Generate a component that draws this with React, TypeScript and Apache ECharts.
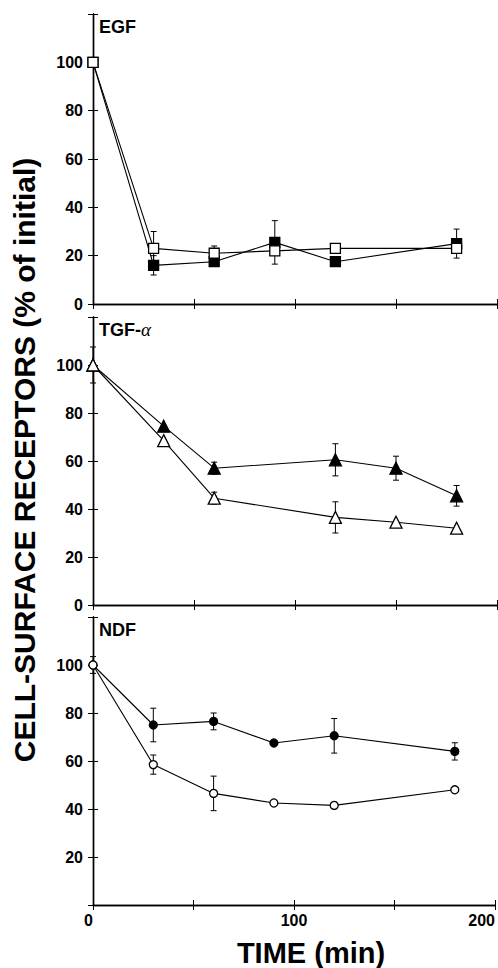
import React, { useEffect, useRef } from "react";
import * as echarts from "echarts";

// ---- data ----
const egfX = [0, 30, 60, 90, 120, 180];
const egfFilled = [100, 16, 17.5, 25.5, 17.5, 25];
const egfFilledErr = [0, 4, 1, 9, 1, 6];
const egfOpen = [100, 23, 21, 22, 23, 23];
const egfOpenErr = [0, 7, 3, 0, 0, 0];

const tgfX = [0, 35, 60, 120, 150, 180];
const tgfFilled = [100, 74.5, 57, 60.5, 57, 45.5];
const tgfFilledErr = [0, 0, 2.5, 6.7, 5, 4.3];
const tgfOpen = [100, 68.5, 44.5, 36.5, 34.5, 32];
const tgfOpenErr = [7.5, 0, 2.5, 6.5, 0, 0];

const ndfX = [0, 30, 60, 90, 120, 180];
const ndfFilled = [100, 75, 76.5, 67.5, 70.5, 64];
const ndfFilledErr = [0, 7, 3.5, 0, 7.2, 3.6];
const ndfOpen = [100, 58.5, 46.5, 42.5, 41.5, 48];
const ndfOpenErr = [3.5, 4, 7.2, 0, 0, 0];

const panelNames = ["EGF", "TGF-", "NDF"];
const yTicks = [0, 20, 40, 60, 80, 100];
const xTicks = [0, 100, 200];

const FONT = "'Liberation Sans', Arial, Helvetica, sans-serif";

export default function App() {
  const ref = useRef<HTMLDivElement>(null);
  useEffect(() => {
    document.body.style.margin = "0";
    const chart = echarts.init(ref.current!, null, { renderer: "svg" });

    const grids = [
      { left: 93, top: 14, width: 404, height: 290 },
      { left: 93, top: 317, width: 404, height: 288 },
      { left: 93, top: 617, width: 404, height: 288 },
    ];

    const xAxis: any[] = [];
    const yAxis: any[] = [];
    grids.forEach((_, i) => {
      const last = i === 2;
      xAxis.push({
        type: "value", gridIndex: i, position: "bottom", min: 0, max: 200, interval: 50,
        axisLine: { show: true, lineStyle: { color: "#000", width: 1.4 } },
        axisTick: { show: true, inside: true, length: 5, lineStyle: { color: "#000" } },
        splitLine: { show: false },
        axisLabel: {
          show: last, margin: 7, color: "#000", fontFamily: FONT, fontWeight: "bold", fontSize: 16,
          alignMinLabel: "right", alignMaxLabel: "right",
          formatter: (v: number) => (xTicks.includes(v) ? String(v) : ""),
        },
      });
      xAxis.push({
        type: "value", gridIndex: i, position: "top", min: 0, max: 200, interval: 50,
        axisLine: { show: true, lineStyle: { color: "#000", width: 1.4 } },
        axisTick: { show: true, inside: true, length: 5, lineStyle: { color: "#000" } },
        splitLine: { show: false },
        axisLabel: { show: false },
      });
      yAxis.push({
        type: "value", gridIndex: i, position: "left", min: 0, max: 120, interval: 20,
        axisLine: { show: true, lineStyle: { color: "#000", width: 1.4 } },
        axisTick: { show: true, inside: true, length: 5, lineStyle: { color: "#000" } },
        splitLine: { show: false },
        axisLabel: {
          margin: 10, color: "#000", fontFamily: FONT, fontWeight: "bold", fontSize: 16,
          formatter: (v: number) => {
            if (!yTicks.includes(v)) return "";
            if (last && v === 0) return "";
            return String(v);
          },
        },
      });
      yAxis.push({
        type: "value", gridIndex: i, position: "right", min: 0, max: 120, interval: 20,
        axisLine: { show: true, lineStyle: { color: "#000", width: 1.4 } },
        axisTick: { show: true, inside: true, length: 5, lineStyle: { color: "#000" } },
        splitLine: { show: false },
        axisLabel: { show: false },
      });
    });

    const errSeries = (i: number, xs: number[], ys: number[], errs: number[]) => ({
      type: "custom",
      xAxisIndex: 2 * i,
      yAxisIndex: 2 * i,
      z: 1,
      silent: true,
      data: xs
        .map((x, k) => [x, ys[k] - errs[k], ys[k] + errs[k], errs[k]])
        .filter((d) => d[3] > 0),
      encode: { x: 0, y: [1, 2] },
      renderItem: (_p: any, api: any) => {
        const x = api.value(0);
        const lo = api.coord([x, api.value(1)]);
        const hi = api.coord([x, api.value(2)]);
        const w = 3;
        const st = { stroke: "#000", lineWidth: 1 };
        return {
          type: "group",
          children: [
            { type: "line", shape: { x1: lo[0], y1: lo[1], x2: hi[0], y2: hi[1] }, style: st },
            { type: "line", shape: { x1: lo[0] - w, y1: lo[1], x2: lo[0] + w, y2: lo[1] }, style: st },
            { type: "line", shape: { x1: hi[0] - w, y1: hi[1], x2: hi[0] + w, y2: hi[1] }, style: st },
          ],
        };
      },
    });

    const lineSeries = (
      i: number, xs: number[], ys: number[], symbol: string, size: number, filled: boolean, z: number
    ) => ({
      type: "line",
      xAxisIndex: 2 * i,
      yAxisIndex: 2 * i,
      z,
      data: xs.map((x, k) => [x, ys[k]]),
      symbol,
      symbolSize: size,
      showSymbol: true,
      lineStyle: { color: "#000", width: 1.1 },
      itemStyle: { color: filled ? "#000" : "#fff", borderColor: "#000", borderWidth: 1.3 },
      emphasis: { disabled: true },
    });

    const series: any[] = [
      errSeries(0, egfX, egfFilled, egfFilledErr),
      errSeries(0, egfX, egfOpen, egfOpenErr),
      lineSeries(0, egfX, egfFilled, "rect", 10, true, 3),
      lineSeries(0, egfX, egfOpen, "rect", 10, false, 4),
      errSeries(1, tgfX, tgfFilled, tgfFilledErr),
      errSeries(1, tgfX, tgfOpen, tgfOpenErr),
      lineSeries(1, tgfX, tgfFilled, "triangle", 12, true, 3),
      lineSeries(1, tgfX, tgfOpen, "triangle", 12, false, 4),
      errSeries(2, ndfX, ndfFilled, ndfFilledErr),
      errSeries(2, ndfX, ndfOpen, ndfOpenErr),
      lineSeries(2, ndfX, ndfFilled, "circle", 8, true, 3),
      lineSeries(2, ndfX, ndfOpen, "circle", 8, false, 4),
    ];

    const labelStyle = { fill: "#000", font: `bold 18px ${FONT}` };
    const graphic: any[] = [
      { type: "text", left: 99, top: 18, style: { text: panelNames[0], ...labelStyle } },
      {
        type: "text", left: 99, top: 320,
        style: {
          text: "{a|" + panelNames[1] + "}{b|α}",
          rich: {
            a: { fontFamily: FONT, fontWeight: "bold", fontSize: 18, fill: "#000" },
            b: { fontFamily: "'Liberation Serif', 'DejaVu Serif', serif", fontStyle: "italic", fontSize: 19, fill: "#000" },
          },
        },
      },
      { type: "text", left: 99, top: 621, style: { text: panelNames[2], ...labelStyle } },
      {
        type: "text", x: 24, y: 460, rotation: Math.PI / 2,
        style: {
          text: "CELL-SURFACE RECEPTORS (% of initial)", fill: "#000",
          font: `bold 30px ${FONT}`, textAlign: "center", textVerticalAlign: "middle",
        },
      },
      {
        type: "text", x: 311, y: 953,
        style: {
          text: "TIME (min)", fill: "#000", font: `bold 29px ${FONT}`,
          textAlign: "center", textVerticalAlign: "middle",
        },
      },
    ];

    chart.setOption({
      animation: false,
      backgroundColor: "#fff",
      grid: grids.map((g) => ({ ...g, show: false })),
      xAxis,
      yAxis,
      series,
      graphic,
    });
    return () => chart.dispose();
  }, []);
  return <div ref={ref} style={{ width: 498, height: 968 }} />;
}
